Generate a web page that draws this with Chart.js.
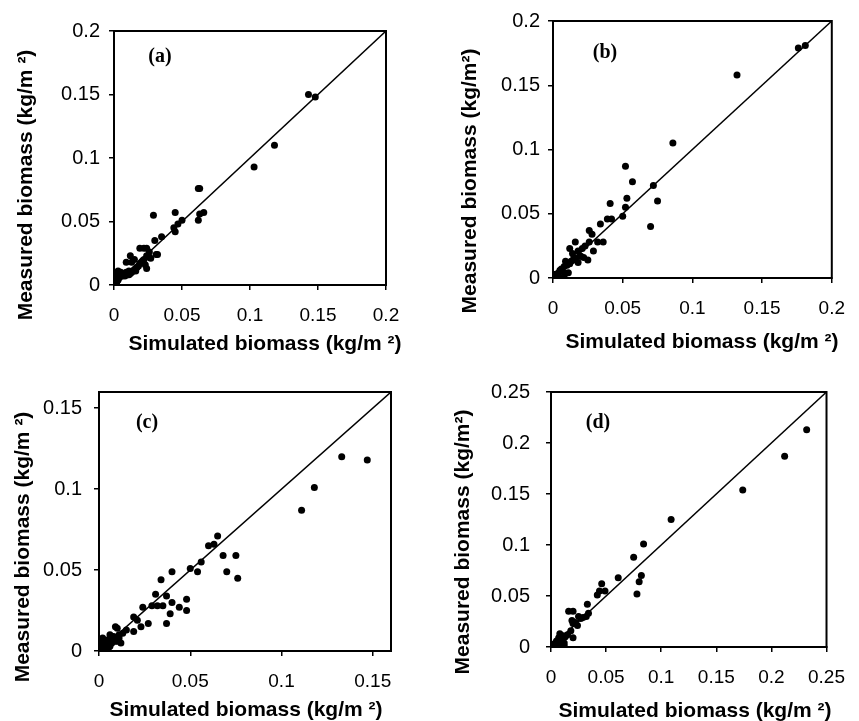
<!DOCTYPE html>
<html lang="en">
<head>
  <meta charset="UTF-8">
  <title>Simulated vs measured biomass</title>
  <script src="https://cdn.jsdelivr.net/npm/chart.js"></script>
  <style>
    body {
      margin: 0;
      background: #fff;
    }
    #wrap {
      position: relative;
      width: 859px;
      height: 721px;
    }
    canvas {
      position: absolute;
    }
  </style>
</head>
<body>
  <div id="wrap">
    <canvas id="chartA" width="430" height="360" style="left:0;top:0"></canvas>
    <canvas id="chartB" width="429" height="360" style="left:430px;top:0"></canvas>
    <canvas id="chartC" width="430" height="361" style="left:0;top:360px"></canvas>
    <canvas id="chartD" width="429" height="361" style="left:430px;top:360px"></canvas>
  </div>

  <script>
    // panel (a)
    const simA = [0.143, 0.148, 0.118, 0.103, 0.062, 0.063, 0.062, 0.063, 0.066, 0.029, 0.045, 0.050, 0.047, 0.044, 0.045, 0.035, 0.030, 0.031, 0.032, 0.019, 0.022, 0.024, 0.026, 0.027, 0.024, 0.023, 0.024, 0.015, 0.013, 0.012, 0.009, 0.019, 0.017, 0.015, 0.013, 0.011, 0.009, 0.007, 0.005, 0.003, 0.002, 0.004, 0.003, 0.001, 0.000, 0.002, 0.006, 0.008, 0.010, 0.012, 0.014, 0.016, 0.018, 0.020, 0.021, 0.016, 0.011, 0.022, 0.025];
    const measA = [0.150, 0.148, 0.110, 0.093, 0.076, 0.076, 0.051, 0.056, 0.057, 0.055, 0.057, 0.051, 0.048, 0.045, 0.042, 0.038, 0.035, 0.024, 0.024, 0.029, 0.029, 0.029, 0.026, 0.021, 0.023, 0.016, 0.013, 0.020, 0.018, 0.023, 0.018, 0.017, 0.014, 0.012, 0.010, 0.011, 0.010, 0.009, 0.010, 0.011, 0.008, 0.006, 0.004, 0.003, 0.001, 0.002, 0.007, 0.007, 0.008, 0.009, 0.011, 0.013, 0.015, 0.018, 0.019, 0.011, 0.008, 0.020, 0.022];
    const ticksA = [0, 0.05, 0.1, 0.15, 0.2];
    const rangeA = [0, 0.2];

    // panel (b)
    const simB = [0.176, 0.181, 0.132, 0.086, 0.052, 0.057, 0.072, 0.075, 0.070, 0.053, 0.052, 0.050, 0.041, 0.039, 0.042, 0.034, 0.026, 0.028, 0.036, 0.032, 0.029, 0.025, 0.026, 0.023, 0.020, 0.016, 0.012, 0.014, 0.015, 0.018, 0.021, 0.022, 0.018, 0.009, 0.012, 0.008, 0.011, 0.005, 0.004, 0.002, 0.001, 0.003, 0.008, 0.006, 0.010, 0.013, 0.016, 0.019, 0.007, 0.004];
    const measB = [0.179, 0.181, 0.158, 0.105, 0.087, 0.075, 0.072, 0.060, 0.040, 0.062, 0.055, 0.048, 0.058, 0.046, 0.046, 0.042, 0.037, 0.034, 0.028, 0.028, 0.021, 0.014, 0.028, 0.025, 0.017, 0.028, 0.023, 0.019, 0.016, 0.021, 0.023, 0.016, 0.012, 0.013, 0.011, 0.009, 0.004, 0.006, 0.004, 0.003, 0.001, 0.002, 0.001, 0.007, 0.010, 0.013, 0.014, 0.017, 0.005, 0.001];
    const ticksB = [0, 0.05, 0.1, 0.15, 0.2];
    const rangeB = [0, 0.2];

    // panel (c)
    const simC = [0.133, 0.147, 0.118, 0.111, 0.065, 0.060, 0.063, 0.068, 0.075, 0.070, 0.076, 0.056, 0.054, 0.050, 0.040, 0.034, 0.031, 0.037, 0.040, 0.048, 0.044, 0.048, 0.039, 0.037, 0.029, 0.032, 0.035, 0.024, 0.027, 0.023, 0.019, 0.021, 0.019, 0.015, 0.013, 0.011, 0.009, 0.010, 0.012, 0.008, 0.006, 0.005, 0.007, 0.009, 0.004, 0.003, 0.002, 0.001, 0.004, 0.002, 0.001, 0.006, 0.010, 0.011, 0.003, 0.005];
    const measC = [0.120, 0.118, 0.101, 0.087, 0.071, 0.065, 0.066, 0.059, 0.059, 0.049, 0.045, 0.055, 0.049, 0.051, 0.049, 0.044, 0.035, 0.034, 0.030, 0.032, 0.027, 0.025, 0.023, 0.017, 0.028, 0.028, 0.028, 0.027, 0.017, 0.015, 0.021, 0.019, 0.012, 0.013, 0.011, 0.010, 0.015, 0.014, 0.005, 0.009, 0.010, 0.007, 0.005, 0.006, 0.004, 0.006, 0.003, 0.001, 0.000, 0.008, 0.005, 0.003, 0.006, 0.008, 0.002, 0.001];
    const ticksC = [0, 0.05, 0.1, 0.15];
    const rangeC = [0, 0.16];

    // panel (d)
    const simD = [0.232, 0.212, 0.174, 0.109, 0.084, 0.075, 0.082, 0.080, 0.078, 0.061, 0.046, 0.049, 0.044, 0.042, 0.033, 0.034, 0.032, 0.029, 0.025, 0.024, 0.020, 0.016, 0.020, 0.019, 0.018, 0.020, 0.011, 0.008, 0.010, 0.012, 0.005, 0.003, 0.001, 0.012, 0.010, 0.007, 0.004, 0.009, 0.006, 0.002, 0.013, 0.015, 0.022, 0.027];
    const measD = [0.213, 0.187, 0.154, 0.125, 0.101, 0.088, 0.070, 0.064, 0.052, 0.068, 0.062, 0.055, 0.055, 0.051, 0.042, 0.033, 0.030, 0.029, 0.030, 0.021, 0.023, 0.035, 0.035, 0.026, 0.016, 0.009, 0.011, 0.013, 0.008, 0.004, 0.006, 0.003, 0.001, 0.001, 0.002, 0.009, 0.004, 0.005, 0.002, 0.002, 0.010, 0.012, 0.024, 0.028];
    const ticksD = [0, 0.05, 0.1, 0.15, 0.2, 0.25];
    const rangeD = [0, 0.25];

    const xTitle = 'Simulated biomass (kg/m \u00b2)';

    // margins of the plot box inside each canvas, and where the texts sit
    const panels = [
      { id: 'chartA', label: '(a)', sim: simA, meas: measA, ticks: ticksA, range: rangeA,
        yTitle: 'Measured biomass (kg/m \u00b2)',
        box: { left: 114, top: 31, right: 44, bottom: 75 }, yPad: 9, xPad: 14,
        labelAt: [160, 57], xTitleAt: [265, 344], yTitleAt: [26, 185] },
      { id: 'chartB', label: '(b)', sim: simB, meas: measB, ticks: ticksB, range: rangeB,
        yTitle: 'Measured biomass (kg/m\u00b2)',
        box: { left: 123, top: 21, right: 20, bottom: 82 }, yPad: 8, xPad: 14,
        labelAt: [175, 53], xTitleAt: [272, 342], yTitleAt: [40, 181] },
      { id: 'chartC', label: '(c)', sim: simC, meas: measC, ticks: ticksC, range: rangeC,
        yTitle: 'Measured biomass (kg/m \u00b2)',
        box: { left: 99, top: 32, right: 39, bottom: 70 }, yPad: 12, xPad: 14,
        labelAt: [147, 63], xTitleAt: [246, 350], yTitleAt: [23, 187] },
      { id: 'chartD', label: '(d)', sim: simD, meas: measD, ticks: ticksD, range: rangeD,
        yTitle: 'Measured biomass (kg/m\u00b2)',
        box: { left: 121, top: 32, right: 20, bottom: 74 }, yPad: 16, xPad: 14,
        labelAt: [168, 63], xTitleAt: [265, 351], yTitleAt: [33, 182] }
    ];

    const sansFont = '"Liberation Sans", Arial, sans-serif';

    // frame round the plot area, panel letter and axis titles
    const frameAndText = {
      id: 'frameAndText',
      afterDraw(chart, args, o) {
        const { ctx, chartArea: a } = chart;
        ctx.save();
        ctx.strokeStyle = '#000';
        ctx.lineWidth = 2;
        ctx.strokeRect(a.left, a.top, a.right - a.left, a.bottom - a.top);
        ctx.fillStyle = '#000';
        ctx.textAlign = 'center';
        ctx.textBaseline = 'middle';
        ctx.font = 'bold 20px "Liberation Serif", "Times New Roman", serif';
        ctx.fillText(o.label, o.labelAt[0], o.labelAt[1]);
        ctx.font = 'bold 21px ' + sansFont;
        ctx.fillText(o.xTitle, o.xTitleAt[0], o.xTitleAt[1]);
        ctx.translate(o.yTitleAt[0], o.yTitleAt[1]);
        ctx.rotate(-Math.PI / 2);
        ctx.fillText(o.yTitle, 0, 0);
        ctx.restore();
      }
    };

    function axis(p, horizontal) {
      return {
        type: 'linear',
        min: p.range[0],
        max: p.range[1],
        afterBuildTicks: (s) => { s.ticks = p.ticks.map(v => ({ value: v })); },
        afterFit: (s) => {
          if (horizontal) s.height = p.box.bottom;
          else s.width = p.box.left;
        },
        ticks: {
          color: '#000',
          font: { family: sansFont, size: horizontal ? 19 : 20 },
          padding: horizontal ? p.xPad : p.yPad,
          maxRotation: 0,
          autoSkip: false,
          callback: (v) => String(v)
        },
        grid: {
          drawOnChartArea: false,
          drawTicks: true,
          tickLength: 5,
          color: '#000',
          lineWidth: 1.5
        },
        border: { display: true, color: '#000', width: 2 }
      };
    }

    panels.forEach(p => {
      const points = p.sim.map((x, i) => ({ x: x, y: p.meas[i] }));
      new Chart(document.getElementById(p.id), {
        type: 'scatter',
        data: {
          datasets: [
            {
              // 1:1 line
              data: [{ x: p.range[0], y: p.range[0] }, { x: p.range[1], y: p.range[1] }],
              showLine: true,
              borderColor: '#000',
              borderWidth: 1.5,
              pointRadius: 0
            },
            {
              data: points,
              backgroundColor: '#000',
              borderWidth: 0,
              pointRadius: 3.5
            }
          ]
        },
        options: {
          responsive: false,
          animation: false,
          layout: { padding: { top: p.box.top, right: p.box.right, left: 0, bottom: 0 } },
          plugins: {
            legend: { display: false },
            tooltip: { enabled: false },
            frameAndText: {
              label: p.label,
              labelAt: p.labelAt,
              xTitle: xTitle,
              xTitleAt: p.xTitleAt,
              yTitle: p.yTitle,
              yTitleAt: p.yTitleAt
            }
          },
          scales: {
            x: axis(p, true),
            y: axis(p, false)
          }
        },
        plugins: [frameAndText]
      });
    });
  </script>
</body>
</html>
